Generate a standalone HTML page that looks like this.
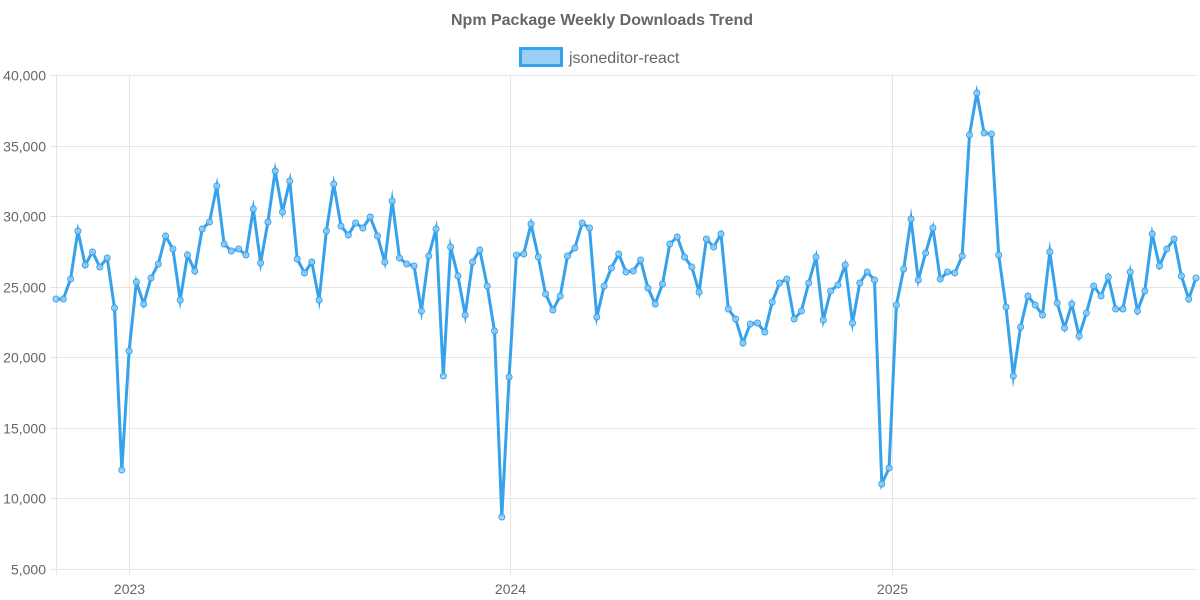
<!DOCTYPE html>
<html><head><meta charset="utf-8"><style>
html,body{margin:0;padding:0;background:#fff;}
svg{display:block;font-family:"Liberation Sans",sans-serif;}
</style></head><body>
<svg id="c" width="1200" height="600" xmlns="http://www.w3.org/2000/svg">
<text x="602" y="25" text-anchor="middle" font-size="16" font-weight="bold" fill="#666">Npm Package Weekly Downloads Trend</text>
<rect x="520.5" y="48.5" width="41" height="17" fill="#9ad0f5" stroke="#36a2eb" stroke-width="3"/>
<text x="569" y="63" font-size="16" fill="#666">jsoneditor-react</text>
<g id="grid" stroke="#e5e5e5" stroke-width="1"></g>
<g id="labels" font-size="14" fill="#666"></g>
<g id="series"></g>
</svg>
<script>
var ys=[299,299,279,231,265,252,267,258,308,470,351,282,304,278,264,236,249,300,255,271,229,222,186,244,251,249,255,209,263,222,171,212,181,259,273,262,300,231,184,226,235,223,228,217,236,262,201,258,264,266,311,256,229,376,247,276,315,262,250,286,331,517,377,255,254,224,257,294,310,296,256,248,223,228,317,286,268,254,272,271,260,288,304,284,244,237,257,267,292,239,247,234,309,319,343,324,323,332,302,283,279,319,311,283,257,320,291,285,265,323,283,272,280,484,468,305,269,219,280,253,228,279,272,273,256,135,93,133,134,255,307,376,327,296,305,315,252,303,328,304,336,313,286,296,277,309,309,272,311,291,234,266,249,239,276,299,278];
var NS="http://www.w3.org/2000/svg";
function el(t,a,p){var e=document.createElementNS(NS,t);for(var k in a)e.setAttribute(k,a[k]);p.appendChild(e);return e;}
var g=document.getElementById('grid'),L=document.getElementById('labels'),S=document.getElementById('series');
var vals=["40,000","35,000","30,000","25,000","20,000","15,000","10,000","5,000"];
for(var i=0;i<8;i++){var y=75+i*(494/7);y=Math.round(y)+0.5;el('line',{x1:50,x2:1197,y1:y,y2:y},g);
var t=el('text',{x:46,y:y+5,'text-anchor':'end'},L);t.textContent=vals[i];}
[[56.5,""],[129.5,"2023"],[510.5,"2024"],[892.5,"2025"]].forEach(function(v){el('line',{x1:v[0],x2:v[0],y1:75,y2:575},g);
if(v[1]){var t=el('text',{x:v[0],y:594,'text-anchor':'middle'},L);t.textContent=v[1];}});
var n=ys.length,pts=[];
for(var i=0;i<n;i++){pts.push((56+i*(1140/(n-1))).toFixed(1)+","+ys[i]);}
el('polyline',{points:pts.join(" "),fill:"none",stroke:"#36a2eb","stroke-width":3,"stroke-linejoin":"miter","stroke-miterlimit":10},S);
for(var i=0;i<n;i++){var p=pts[i].split(",");el('circle',{cx:p[0],cy:p[1],r:3,fill:"rgba(154,208,245,0.8)",stroke:"#36a2eb","stroke-width":1},S);}
</script>
</body></html>
